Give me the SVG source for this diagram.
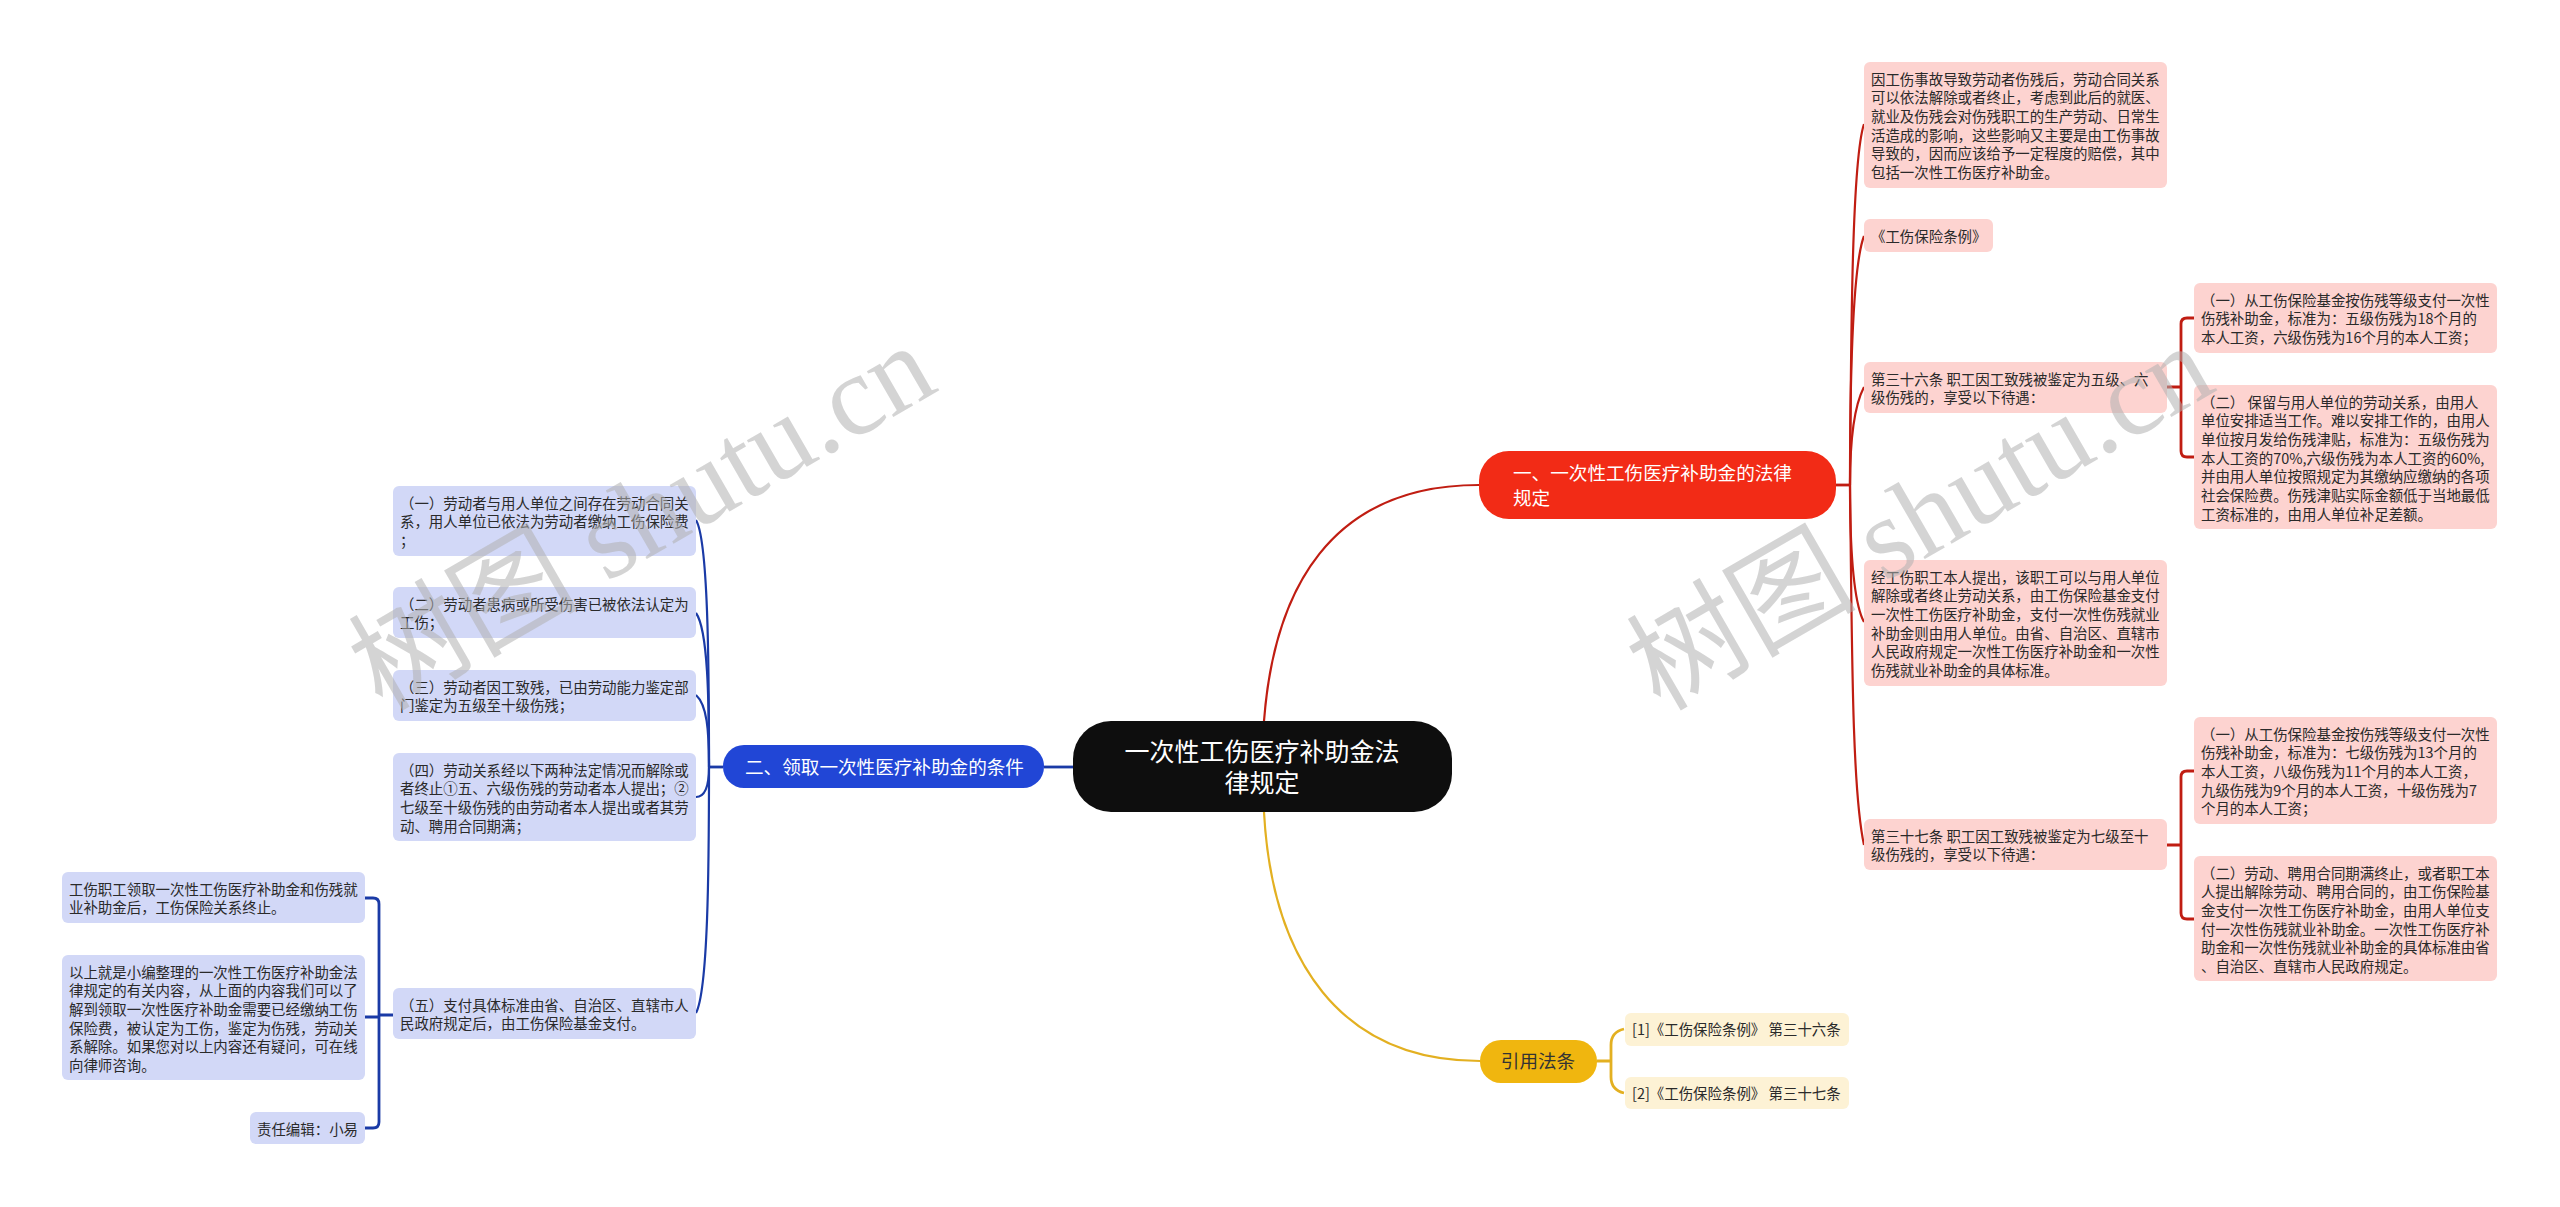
<svg xmlns="http://www.w3.org/2000/svg" width="2560" height="1207" viewBox="0 0 2560 1207">
<style>
text{font-family:"Liberation Sans","Noto Sans CJK SC",sans-serif}
.t{font-family:"Noto Sans CJK SC",sans-serif;font-size:14.45px;fill:#2a2a2a}
.b{font-family:"Noto Sans CJK SC",sans-serif;font-size:18.6px;fill:#fff}
.c{fill:none;stroke-width:2.2}
.e{stroke-width:2.8}
.r{stroke:#c01d12}.u{stroke:#1a3aa6}.y{stroke:#e3b021}
.pk{fill:#fdd3d0}.lv{fill:#d2d8f7}.cr{fill:#fdf2d5}
.wm{font-family:"Liberation Serif","Noto Sans CJK SC",serif;font-size:115px;fill:#b0b0b0;fill-opacity:.55}
</style>
<rect width="2560" height="1207" fill="#fff"/>
<g id="connectors">
<path class="c r" d="M1264 721C1274 590 1330 485 1479 485"/>
<path class="c e r" d="M1836 485H1850"/>
<path class="c r" d="M1850 485C1851 330 1852 160 1864 124"/>
<path class="c r" d="M1850 485C1850 400 1851 270 1864 236"/>
<path class="c r" d="M1850 485C1850 450 1852 410 1864 387"/>
<path class="c r" d="M1850 485C1850 540 1852 600 1864 622"/>
<path class="c r" d="M1850 485C1852 650 1852 790 1864 845"/>
<path class="c e r" d="M2167 387H2181M2194 318H2187Q2181 318 2181 324V451Q2181 457 2187 457H2194"/>
<path class="c e r" d="M2167 845H2181M2194 771H2187Q2181 771 2181 777V913Q2181 919 2187 919H2194"/>
<path class="c e u" d="M1073 767H1044"/>
<path class="c e u" d="M723 767H709"/>
<path class="c u" d="M709 767C709 660 708 540 696 520"/>
<path class="c u" d="M709 767C709 700 708 630 696 613"/>
<path class="c u" d="M709 767C709 730 707 705 696 695"/>
<path class="c u" d="M709 767C709 780 707 797 696 797"/>
<path class="c u" d="M709 767C709 870 708 990 696 1013"/>
<path class="c e u" d="M394 1015H379M365 898H373Q379 898 379 904V1122Q379 1128 373 1128H365M365 1017H379"/>
<path class="c y" d="M1264 812C1272 960 1340 1061 1480 1061"/>
<path class="c e y" d="M1597 1061H1611M1624 1029Q1611 1032 1611 1045V1077Q1611 1090 1624 1093"/>
</g>
<g id="root"><rect x="1073" y="721" width="379" height="91" rx="38" fill="#0e0e0e"/><text x="1262" y="761" text-anchor="middle" style="font-family:'Noto Sans CJK SC',sans-serif;font-size:25px;fill:#fff">一次性工伤医疗补助金法</text><text x="1262" y="792" text-anchor="middle" style="font-family:'Noto Sans CJK SC',sans-serif;font-size:25px;fill:#fff">律规定</text></g>
<g id="branch1"><rect x="1479" y="451" width="357" height="68" rx="30" fill="#f22b16"/><text class="b" x="1513" y="480">一、一次性工伤医疗补助金的法律</text><text class="b" x="1513" y="505">规定</text></g>
<g id="branch2"><rect x="723" y="745" width="321" height="43" rx="21" fill="#2146d6"/><text class="b" x="745" y="773.500">二、领取一次性医疗补助金的条件</text></g>
<g id="branch3"><rect x="1480" y="1040" width="117" height="43" rx="21" fill="#f0b60f"/><text class="b" x="1538" y="1068" text-anchor="middle" style="fill:#333">引用法条</text></g>
<g id="r1"><rect class="pk" x="1864" y="62" width="303" height="126" rx="6"/><text class="t" y="84.500"><tspan x="1871">因工伤事故导致劳动者伤残后，劳动合同关系</tspan><tspan x="1871" dy="18.67">可以依法解除或者终止，考虑到此后的就医、</tspan><tspan x="1871" dy="18.67">就业及伤残会对伤残职工的生产劳动、日常生</tspan><tspan x="1871" dy="18.67">活造成的影响，这些影响又主要是由工伤事故</tspan><tspan x="1871" dy="18.67">导致的，因而应该给予一定程度的赔偿，其中</tspan><tspan x="1871" dy="18.67">包括一次性工伤医疗补助金。</tspan></text></g>
<g id="r2"><rect class="pk" x="1864" y="219" width="129" height="33" rx="6"/><text class="t" x="1871" y="241.500">《工伤保险条例》</text></g>
<g id="r3"><rect class="pk" x="1864" y="362" width="303" height="51" rx="6"/><text class="t" y="384.500"><tspan x="1871">第三十六条 职工因工致残被鉴定为五级、六</tspan><tspan x="1871" dy="18.67">级伤残的，享受以下待遇：</tspan></text></g>
<g id="r3a"><rect class="pk" x="2194" y="283" width="303" height="70" rx="6"/><text class="t" y="305.500"><tspan x="2201">（一）从工伤保险基金按伤残等级支付一次性</tspan><tspan x="2201" dy="18.67">伤残补助金，标准为：五级伤残为18个月的</tspan><tspan x="2201" dy="18.67">本人工资，六级伤残为16个月的本人工资；</tspan></text></g>
<g id="r3b"><rect class="pk" x="2194" y="385" width="303" height="144" rx="6"/><text class="t" y="407.500"><tspan x="2201">（二） 保留与用人单位的劳动关系，由用人</tspan><tspan x="2201" dy="18.67">单位安排适当工作。难以安排工作的，由用人</tspan><tspan x="2201" dy="18.67">单位按月发给伤残津贴，标准为：五级伤残为</tspan><tspan x="2201" dy="18.67">本人工资的70%,六级伤残为本人工资的60%,</tspan><tspan x="2201" dy="18.67">并由用人单位按照规定为其缴纳应缴纳的各项</tspan><tspan x="2201" dy="18.67">社会保险费。伤残津贴实际金额低于当地最低</tspan><tspan x="2201" dy="18.67">工资标准的，由用人单位补足差额。</tspan></text></g>
<g id="r4"><rect class="pk" x="1864" y="560" width="303" height="126" rx="6"/><text class="t" y="582.500"><tspan x="1871">经工伤职工本人提出，该职工可以与用人单位</tspan><tspan x="1871" dy="18.67">解除或者终止劳动关系，由工伤保险基金支付</tspan><tspan x="1871" dy="18.67">一次性工伤医疗补助金，支付一次性伤残就业</tspan><tspan x="1871" dy="18.67">补助金则由用人单位。由省、自治区、直辖市</tspan><tspan x="1871" dy="18.67">人民政府规定一次性工伤医疗补助金和一次性</tspan><tspan x="1871" dy="18.67">伤残就业补助金的具体标准。</tspan></text></g>
<g id="r5"><rect class="pk" x="1864" y="819" width="303" height="51" rx="6"/><text class="t" y="841.500"><tspan x="1871">第三十七条 职工因工致残被鉴定为七级至十</tspan><tspan x="1871" dy="18.67">级伤残的，享受以下待遇：</tspan></text></g>
<g id="r5a"><rect class="pk" x="2194" y="717" width="303" height="107" rx="6"/><text class="t" y="739.500"><tspan x="2201">（一）从工伤保险基金按伤残等级支付一次性</tspan><tspan x="2201" dy="18.67">伤残补助金，标准为：七级伤残为13个月的</tspan><tspan x="2201" dy="18.67">本人工资，八级伤残为11个月的本人工资，</tspan><tspan x="2201" dy="18.67">九级伤残为9个月的本人工资，十级伤残为7</tspan><tspan x="2201" dy="18.67">个月的本人工资；</tspan></text></g>
<g id="r5b"><rect class="pk" x="2194" y="856" width="303" height="125" rx="6"/><text class="t" y="878.500"><tspan x="2201">（二）劳动、聘用合同期满终止，或者职工本</tspan><tspan x="2201" dy="18.67">人提出解除劳动、聘用合同的，由工伤保险基</tspan><tspan x="2201" dy="18.67">金支付一次性工伤医疗补助金，由用人单位支</tspan><tspan x="2201" dy="18.67">付一次性伤残就业补助金。一次性工伤医疗补</tspan><tspan x="2201" dy="18.67">助金和一次性伤残就业补助金的具体标准由省</tspan><tspan x="2201" dy="18.67">、自治区、直辖市人民政府规定。</tspan></text></g>
<g id="c1"><rect class="cr" x="1625" y="1013" width="224" height="33" rx="6"/><text class="t" x="1632" y="1034.500">[1]《工伤保险条例》 第三十六条</text></g>
<g id="c2"><rect class="cr" x="1625" y="1077" width="224" height="32" rx="6"/><text class="t" x="1632" y="1098.500">[2]《工伤保险条例》 第三十七条</text></g>
<g id="l1"><rect class="lv" x="393" y="486" width="303" height="70" rx="6"/><text class="t" y="508.500"><tspan x="400">（一）劳动者与用人单位之间存在劳动合同关</tspan><tspan x="400" dy="18.67">系，用人单位已依法为劳动者缴纳工伤保险费</tspan><tspan x="400" dy="18.67">；</tspan></text></g>
<g id="l2"><rect class="lv" x="393" y="587" width="303" height="51" rx="6"/><text class="t" y="609.500"><tspan x="400">（二）劳动者患病或所受伤害已被依法认定为</tspan><tspan x="400" dy="18.67">工伤；</tspan></text></g>
<g id="l3"><rect class="lv" x="393" y="670" width="303" height="51" rx="6"/><text class="t" y="692.500"><tspan x="400">（三）劳动者因工致残，已由劳动能力鉴定部</tspan><tspan x="400" dy="18.67">门鉴定为五级至十级伤残；</tspan></text></g>
<g id="l4"><rect class="lv" x="393" y="753" width="303" height="88" rx="6"/><text class="t" y="775.500"><tspan x="400">（四）劳动关系经以下两种法定情况而解除或</tspan><tspan x="400" dy="18.67">者终止①五、六级伤残的劳动者本人提出；②</tspan><tspan x="400" dy="18.67">七级至十级伤残的由劳动者本人提出或者其劳</tspan><tspan x="400" dy="18.67">动、聘用合同期满；</tspan></text></g>
<g id="l5"><rect class="lv" x="393" y="988" width="303" height="51" rx="6"/><text class="t" y="1010.500"><tspan x="400">（五）支付具体标准由省、自治区、直辖市人</tspan><tspan x="400" dy="18.67">民政府规定后，由工伤保险基金支付。</tspan></text></g>
<g id="f1"><rect class="lv" x="62" y="872" width="303" height="51" rx="6"/><text class="t" y="894.500"><tspan x="69">工伤职工领取一次性工伤医疗补助金和伤残就</tspan><tspan x="69" dy="18.67">业补助金后，工伤保险关系终止。</tspan></text></g>
<g id="f2"><rect class="lv" x="62" y="955" width="303" height="125" rx="6"/><text class="t" y="977.500"><tspan x="69">以上就是小编整理的一次性工伤医疗补助金法</tspan><tspan x="69" dy="18.67">律规定的有关内容，从上面的内容我们可以了</tspan><tspan x="69" dy="18.67">解到领取一次性医疗补助金需要已经缴纳工伤</tspan><tspan x="69" dy="18.67">保险费，被认定为工伤，鉴定为伤残，劳动关</tspan><tspan x="69" dy="18.67">系解除。如果您对以上内容还有疑问，可在线</tspan><tspan x="69" dy="18.67">向律师咨询。</tspan></text></g>
<g id="f3"><rect class="lv" x="250" y="1112" width="115" height="32" rx="6"/><text class="t" x="257" y="1134.500">责任编辑：小易</text></g>
<g id="watermarks">
<text class="wm" transform="translate(382 712) rotate(-30)">树图 shutu.cn</text>
<text class="wm" transform="translate(1660 712) rotate(-30)">树图 shutu.cn</text>
</g>
</svg>
